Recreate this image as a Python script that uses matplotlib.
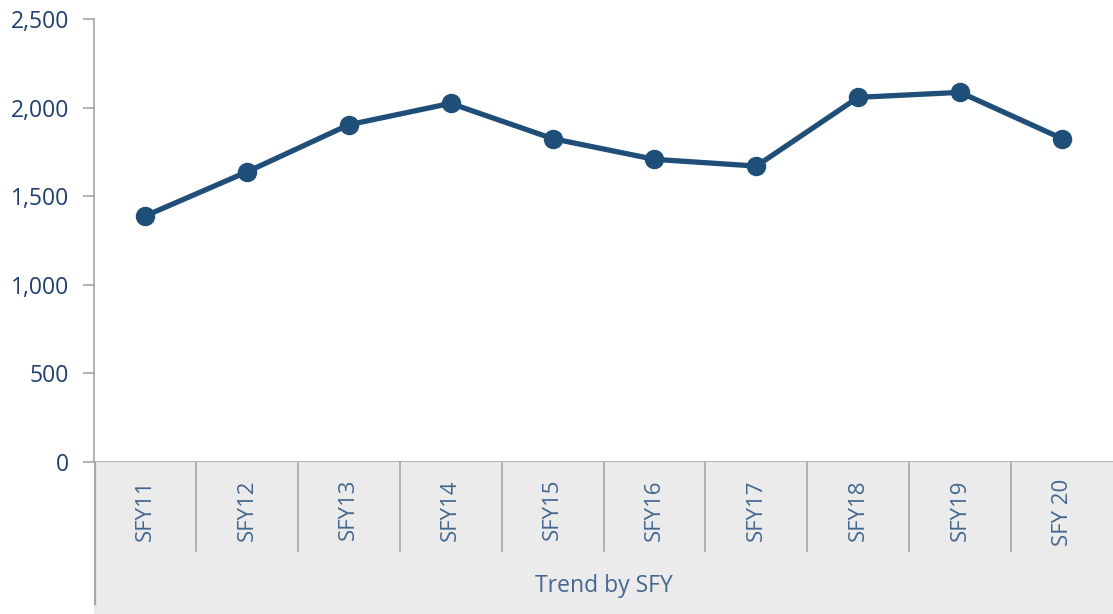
import matplotlib.pyplot as plt

# data
categories = ['SFY11', 'SFY12', 'SFY13', 'SFY14', 'SFY15',
              'SFY16', 'SFY17', 'SFY18', 'SFY19', 'SFY 20']
values = [1388, 1637, 1903, 2024, 1825, 1708, 1670, 2058, 2086, 1825]
y_ticks = [0, 500, 1000, 1500, 2000, 2500]
axis_title = 'Trend by SFY'

W, H = 1113, 614
line_col = '#1f4e79'
tick_col = '#1f3f6e'
cat_col = '#44678f'
grid_col = '#a6a6a6'

plt.rcParams['font.family'] = ['Open Sans', 'DejaVu Sans']

fig = plt.figure(figsize=(W / 100, H / 100), dpi=100)

# main plotting area (pixel box: x 94..1113, y 19..462)
ax = fig.add_axes([94 / W, (H - 462) / H, (W - 94) / W, (462 - 19) / H])
x = list(range(len(categories)))
ax.plot(x, values, color=line_col, lw=3.8, marker='o', ms=13,
        solid_capstyle='round', zorder=3)
ax.set_xlim(-0.5, len(categories) - 0.5)
ax.set_ylim(0, 2500)
ax.set_yticks(y_ticks)
ax.set_yticklabels([f'{v:,}' for v in y_ticks])
ax.tick_params(axis='y', direction='out', length=8, width=1.2, color=grid_col,
               labelcolor=tick_col, labelsize=16.5, pad=10)
ax.tick_params(axis='x', bottom=False, labelbottom=False)
for s in ['top', 'right']:
    ax.spines[s].set_visible(False)
for s in ['left', 'bottom']:
    ax.spines[s].set_color(grid_col)
    ax.spines[s].set_linewidth(1.2)
ax.spines['left'].set_bounds(0, 2500)

# category band under the axis
ax2 = fig.add_axes([94 / W, 0, (W - 94) / W, (H - 462) / H])
ax2.set_facecolor('#ebebeb')
ax2.set_xlim(-0.5, len(categories) - 0.5)
ax2.set_ylim(H, 462)  # pixel rows, top at 462
for s in ax2.spines.values():
    s.set_visible(False)
ax2.set_xticks([])
ax2.set_yticks([])

for i in range(1, len(categories)):
    ax2.plot([i - 0.5, i - 0.5], [462, 551], color=grid_col, lw=1.2)
ax2.plot([-0.5, -0.5], [462, 603], color=grid_col, lw=2.4)

for i, c in enumerate(categories):
    ax2.text(i, 479, c, rotation=90, ha='center', va='top',
             color=cat_col, fontsize=16)

ax2.text((len(categories) - 1) / 2, 586, axis_title, ha='center', va='center',
         color=cat_col, fontsize=16.5)

fig.savefig('out.png', dpi=100)
